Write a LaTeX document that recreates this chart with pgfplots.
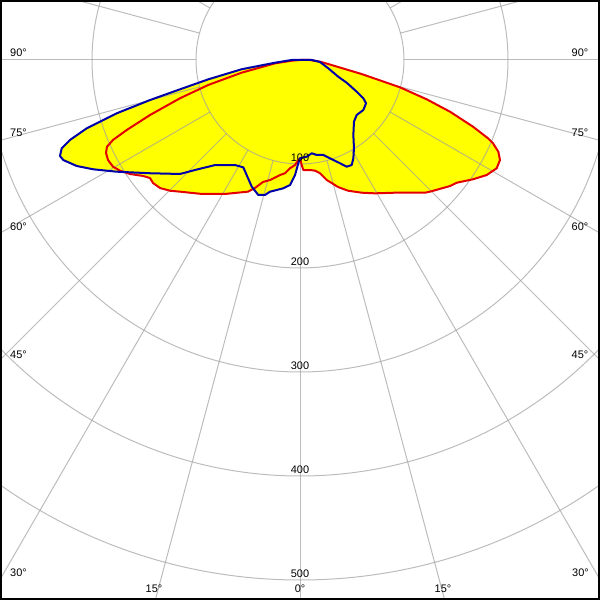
\documentclass[border=0pt]{standalone}
\usepackage{pgfplots}
\pgfplotsset{compat=1.18}
\usepackage{pgfplotstable}
\usepackage{fontspec}
\setmainfont{Liberation Sans}
\definecolor{gridc}{RGB}{160,160,160}
\definecolor{redc}{RGB}{228,0,0}
\definecolor{bluec}{RGB}{0,0,170}
\definecolor{fillc}{RGB}{255,255,0}
\tikzset{lab/.style={font=\fontsize{11}{13}\selectfont, inner sep=0pt, text=black}}
% C0-C180 plane (red), Cartesian position of the polar curve in cd
\pgfplotstableread{
x y
0 0
-8.0 -0.7
-24.0 -3.2
-56.1 -12.2
-88.2 -24.0
-115.4 -36.8
-144.2 -52.9
-166.6 -67.3
-179.8 -76.9
-185.6 -83.4
-186.5 -89.4
-184.6 -96.2
-179.8 -102.6
-173.1 -106.4
-163.5 -109.6
-151.0 -111.5
-144.2 -113.5
-141.3 -118.3
-134.6 -123.1
-125.0 -125.7
-115.4 -126.6
-94.5 -128.8
-72.1 -128.8
-50.0 -126.6
-43.3 -123.1
-35.6 -117.3
-28.8 -115.4
-19.2 -110.6
-14.4 -108.9
-9.6 -104.1
-4.8 -101.0
-1.6 -96.2
0 -94.5
1.6 -101.0
3.2 -105.8
9.6 -105.8
14.4 -106.4
19.2 -108.9
25.7 -115.4
30.5 -118.3
36.5 -122.1
46.2 -125.7
59.3 -127.6
72.1 -128.2
91.3 -127.6
120.2 -127.6
125.0 -126.6
144.2 -121.2
150.7 -118.0
166.3 -114.7
179.5 -110.6
189.1 -104.1
192.3 -96.2
190.7 -88.2
185.6 -80.1
180.8 -75.3
166.3 -64.1
144.2 -49.7
121.8 -37.8
96.2 -26.3
59.3 -13.5
26.9 -3.8
19.2 -1.6
9.6 0
0 0
}\redcurve
% C90-C270 plane (blue)
\pgfplotstableread{
x y
0 0
-8.0 0
-24.0 -2.6
-56.1 -8.9
-88.2 -18.6
-115.4 -28.2
-144.2 -38.5
-176.3 -51.3
-205.1 -65.7
-221.2 -76.9
-229.1 -84.9
-230.8 -92.3
-227.6 -96.2
-214.7 -101.9
-198.8 -105.1
-176.3 -107.4
-144.2 -108.9
-115.4 -109.6
-101.0 -105.8
-81.7 -101.0
-62.5 -101.0
-54.5 -103.2
-51.3 -110.6
-46.4 -121.8
-40.1 -129.8
-33.7 -129.8
-28.8 -126.6
-16.1 -123.4
-9.6 -120.2
-4.8 -110.6
-1.6 -99.3
0 -94.5
6.4 -93.0
11.3 -89.7
16.1 -91.3
22.4 -91.3
28.8 -94.5
38.5 -99.3
44.9 -102.6
49.7 -101.0
51.3 -94.5
51.9 -84.9
51.3 -72.1
51.9 -59.3
54.5 -52.9
60.9 -48.1
63.5 -41.6
60.9 -36.8
54.5 -30.5
45.2 -22.1
36.8 -16.1
27.2 -8.0
19.2 -1.9
11.3 0
0 0
}\bluecurve
\begin{document}
\begin{tikzpicture}
\begin{axis}[
  scale only axis, width=600bp, height=600bp,
  xmin=-288.46, xmax=288.46, ymin=-519.23, ymax=57.69,
  xtick=\empty, ytick=\empty,
  axis on top,
  axis line style={black, line width=4bp},
  clip mode=global,
]
\addplot[fill=fillc, draw=none] table {\redcurve};
\addplot[fill=fillc, draw=none] table {\bluecurve};
\pgfplotsinvokeforeach{0,15,...,345}{
  \draw[gridc, line width=1bp, opacity=0.7] (axis cs:{100*sin(#1)},{-100*cos(#1)}) -- (axis cs:{800*sin(#1)},{-800*cos(#1)});
}
\pgfplotsinvokeforeach{100,200,300,400,500}{
  \draw[gridc, line width=1bp, opacity=0.7] (axis cs:0,0) circle[radius=#1];
}
\addplot[redc, line width=2bp, line join=round] table {\redcurve};
\addplot[bluec, line width=2bp, line join=round] table {\bluecurve};
% intensity labels
\node[lab] at (axis cs:0,-94.2) {100};
\node[lab] at (axis cs:0,-194.2) {200};
\node[lab] at (axis cs:0,-294.2) {300};
\node[lab] at (axis cs:0,-394.2) {400};
\node[lab] at (axis cs:0,-493.6) {500};
% angle labels
\node[lab] at (axis cs:-270.7,6.7) {90°};
\node[lab] at (axis cs:269.2,6.7) {90°};
\node[lab] at (axis cs:-270.7,-70.2) {75°};
\node[lab] at (axis cs:269.2,-70.2) {75°};
\node[lab] at (axis cs:-270.7,-160.3) {60°};
\node[lab] at (axis cs:269.2,-160.3) {60°};
\node[lab] at (axis cs:-270.7,-283.7) {45°};
\node[lab] at (axis cs:269.2,-283.7) {45°};
\node[lab] at (axis cs:-270.7,-493.0) {30°};
\node[lab] at (axis cs:269.7,-493.0) {30°};
\node[lab] at (axis cs:-140.4,-508.0) {15°};
\node[lab] at (axis cs:0,-508.0) {0°};
\node[lab] at (axis cs:137.5,-508.0) {15°};
\end{axis}
\pgfresetboundingbox
\useasboundingbox (current axis.south west) rectangle (current axis.north east);
\end{tikzpicture}
\end{document}
